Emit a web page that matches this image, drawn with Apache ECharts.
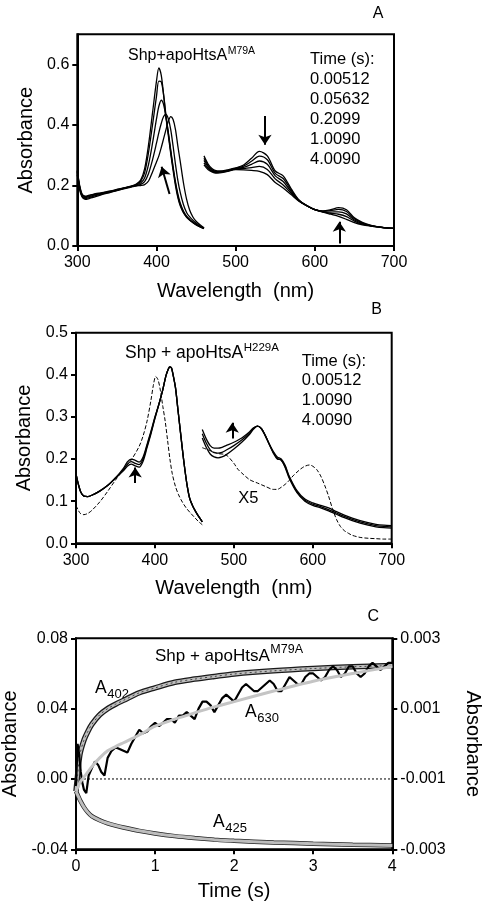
<!DOCTYPE html>
<html><head><meta charset="utf-8">
<script src="https://cdn.jsdelivr.net/npm/echarts@6/dist/echarts.min.js"></script>
<style>html,body{margin:0;padding:0;background:#fff}#c{width:490px;height:911px}</style>
</head><body><div id="c"></div>
<script>
const FONT = '"Liberation Sans", Arial, Helvetica, sans-serif';

// ---------- Panel A : Shp + apoHtsA M79A ----------
const timesA = ['0.00512', '0.05632', '0.2099', '1.0090', '4.0090'];
const wlAL = [300,303,306,310,315,320,330,340,350,360,370,375,380,385,390,395,400,403,406,409,412,415,418,421,424,427,430,434,438,442,446,450,455,460];
const aL_t1 = [.235,.186,.162,.154,.157,.161,.169,.176,.183,.19,.196,.199,.2,.203,.215,.245,.278,.298,.325,.355,.385,.413,.428,.418,.385,.33,.28,.21,.155,.118,.096,.082,.07,.06];
const aL_t2 = [.24,.19,.165,.157,.16,.164,.171,.178,.184,.191,.197,.2,.204,.213,.24,.285,.34,.375,.405,.428,.435,.42,.385,.33,.27,.217,.177,.137,.111,.096,.085,.076,.067,.059];
const aL_t3 = [.245,.194,.168,.16,.163,.167,.173,.179,.185,.192,.198,.202,.208,.225,.27,.34,.42,.462,.482,.468,.425,.375,.318,.262,.212,.172,.142,.116,.099,.088,.079,.072,.064,.058];
const aL_t4 = [.248,.197,.17,.163,.166,.17,.175,.18,.186,.192,.199,.204,.214,.242,.31,.4,.495,.545,.543,.5,.432,.372,.312,.257,.207,.166,.137,.113,.097,.086,.078,.071,.064,.058];
const aL_t5 = [.25,.2,.172,.165,.168,.171,.176,.181,.187,.193,.2,.206,.218,.255,.335,.44,.545,.589,.565,.5,.425,.365,.305,.25,.2,.16,.133,.11,.095,.085,.077,.07,.063,.057];
const wlAR = [460,465,470,475,480,490,500,510,520,530,540,550,560,570,580,590,600,610,620,630,640,650,660,670,680,690,700];
const aR_t1 = [.298,.272,.256,.249,.248,.252,.258,.268,.29,.313,.298,.248,.232,.19,.152,.133,.12,.112,.105,.098,.088,.077,.07,.066,.063,.06,.058];
const aR_t2 = [.29,.267,.253,.247,.246,.25,.257,.264,.28,.297,.285,.24,.223,.185,.151,.133,.12,.113,.108,.105,.097,.082,.072,.067,.063,.06,.058];
const aR_t3 = [.283,.263,.25,.245,.245,.249,.256,.26,.27,.281,.27,.232,.213,.18,.15,.133,.12,.114,.112,.113,.106,.086,.074,.067,.063,.06,.058];
const aR_t4 = [.275,.258,.247,.243,.244,.248,.255,.256,.259,.263,.253,.222,.202,.175,.149,.133,.12,.115,.117,.121,.114,.09,.076,.068,.063,.06,.058];
const aR_t5 = [.268,.253,.245,.241,.242,.247,.253,.252,.25,.247,.236,.21,.192,.17,.148,.133,.12,.116,.12,.127,.12,.093,.078,.069,.063,.06,.058];
const xTicksA = [300,400,500,600,700];
const yTicksA = [0,0.2,0.4,0.6];

// ---------- Panel B : Shp + apoHtsA H229A ----------
const timesB = ['0.00512', '1.0090', '4.0090'];
const wlBL = [300,303,306,310,315,320,330,340,350,360,365,370,375,380,385,390,395,400,405,410,414,417,419,421,423,426,429,432,435,438,441,444,448,452,456,460];
const bL_t1 = [.165,.14,.122,.112,.111,.114,.124,.137,.155,.172,.183,.188,.184,.181,.195,.227,.26,.296,.33,.365,.398,.414,.419,.416,.4,.37,.32,.27,.22,.174,.135,.107,.088,.074,.062,.051];
const bL_t2 = [.165,.14,.122,.112,.111,.114,.124,.137,.155,.175,.188,.194,.19,.187,.2,.231,.263,.298,.33,.365,.398,.414,.419,.416,.4,.37,.32,.27,.22,.174,.135,.107,.088,.074,.062,.051];
const bL_t3 = [.165,.14,.122,.112,.111,.114,.124,.137,.155,.178,.193,.2,.197,.193,.205,.235,.266,.3,.33,.365,.398,.414,.419,.416,.4,.37,.32,.27,.22,.174,.135,.107,.088,.074,.062,.051];
const wlBLd = [300,303,306,310,315,320,330,340,350,360,370,380,385,390,395,398,401,404,407,410,413,416,419,422,426,430,435,440,445,450,455,460];
const bL_dash = [.09,.078,.07,.068,.071,.078,.098,.123,.15,.175,.198,.23,.255,.29,.34,.375,.396,.388,.362,.325,.29,.245,.2,.165,.135,.115,.097,.083,.072,.062,.052,.044];
const wlBR = [460,465,470,475,480,485,490,500,510,520,525,530,535,540,545,550,555,560,565,570,580,590,600,610,620,630,640,650,660,670,680,690,700];
const bR_t1 = [.25,.228,.212,.205,.203,.205,.21,.224,.24,.259,.271,.278,.272,.255,.234,.214,.2,.198,.18,.155,.12,.1,.09,.084,.077,.069,.061,.054,.048,.043,.039,.037,.036];
const bR_t2 = [.26,.238,.222,.215,.214,.216,.221,.232,.245,.262,.273,.278,.272,.255,.235,.216,.202,.197,.182,.158,.122,.102,.093,.087,.08,.072,.064,.057,.051,.046,.042,.04,.039];
const bR_t3 = [.27,.248,.232,.226,.226,.228,.232,.24,.25,.265,.274,.278,.272,.255,.235,.218,.205,.2,.185,.16,.125,.105,.096,.09,.084,.075,.067,.06,.054,.049,.045,.043,.042];
const wlBRd = [460,470,480,490,500,505,510,520,530,540,550,555,560,565,570,575,580,585,590,596,600,605,610,615,620,625,630,635,640,645,650,660,670,680,690,700];
const bR_dash = [.227,.22,.213,.21,.19,.176,.167,.151,.143,.135,.128,.128,.133,.14,.149,.16,.169,.177,.183,.186,.183,.175,.16,.138,.112,.082,.057,.04,.03,.024,.019,.014,.012,.011,.01,.01];
const yTicksB = [0,0.1,0.2,0.3,0.4,0.5];

// ---------- Panel C : kinetics ----------
const tFit = [0,0.02,0.05,0.1,0.15,0.2,0.3,0.4,0.5,0.6,0.8,1.0,1.25,1.5,1.75,2.0,2.5,3.0,3.5,4.0];
const a402 = [-0.007,0.002,0.014,0.022,0.027,0.031,0.0365,0.04,0.0425,0.0447,0.049,0.0518,0.055,0.0568,0.0583,0.0597,0.0615,0.0628,0.0638,0.0645];
const a425 = [-0.007,-0.009,-0.012,-0.016,-0.019,-0.0212,-0.0235,-0.0252,-0.0265,-0.0276,-0.0295,-0.031,-0.0325,-0.0336,-0.0345,-0.0352,-0.0361,-0.0368,-0.0374,-0.0379];
const a630fit = [-0.00135,-0.00125,-0.0011,-0.00095,-0.0008,-0.00065,-0.0004,-0.0002,-0.00008,0.00003,0.00025,0.0005,0.0007,0.00088,0.00105,0.0012,0.0015,0.00178,0.002,0.0022];
const tObs = [0,0.02,0.04,0.06,0.08,0.1,0.13,0.16,0.2,0.24,0.28,0.32,0.36,0.4,0.45,0.5,0.55,0.6,0.65,0.7,0.75,0.8,0.85,0.9,0.95,1.0,1.05,1.1,1.15,1.2,1.25,1.3,1.35,1.4,1.45,1.5,1.55,1.6,1.65,1.7,1.75,1.8,1.85,1.9,1.95,2.0,2.05,2.1,2.15,2.2,2.25,2.3,2.35,2.4,2.45,2.5,2.55,2.6,2.65,2.7,2.75,2.8,2.85,2.9,2.95,3.0,3.05,3.1,3.15,3.2,3.25,3.3,3.35,3.4,3.45,3.5,3.55,3.6,3.65,3.7,3.75,3.8,3.85,3.9,3.95,4.0];
const a630obs = [-0.0012,0.0000,-0.0003,-0.0008,-0.0011,-0.0013,-0.0014,-0.0009,-0.0007,-0.0005,-0.0006,-0.0008,-0.0009,-0.0004,-0.0002,-0.0001,-0.00015,-0.0002,-0.00025,0.0000,0.0002,0.0004,0.0003,0.00035,0.0005,0.0006,0.0005,0.0006,0.0007,0.0007,0.0006,0.0008,0.0008,0.0009,0.0008,0.0007,0.0010,0.0012,0.0012,0.0011,0.0009,0.0011,0.0013,0.0014,0.0013,0.0012,0.0014,0.0016,0.0017,0.0016,0.0015,0.0015,0.0016,0.0017,0.0018,0.0017,0.0015,0.0015,0.0017,0.0019,0.0018,0.0017,0.0017,0.0019,0.0020,0.0020,0.0019,0.0018,0.0019,0.0021,0.0022,0.0021,0.0019,0.0020,0.0022,0.0022,0.0020,0.0019,0.0020,0.0022,0.0023,0.0022,0.0021,0.0022,0.0023,0.0023];
const xTicksC = [0,1,2,3,4];

// ---------- helpers ----------
const pair = (xs, ys) => xs.map((x, i) => [x, ys[i]]);
function line(xi, yi, xs, ys, color, width, dash, z, smooth) {
  return { type: 'line', xAxisIndex: xi, yAxisIndex: yi, data: pair(xs, ys),
    showSymbol: false, symbol: 'none', smooth: smooth === undefined ? 0.3 : smooth,
    lineStyle: { color: color, width: width, type: dash || 'solid' }, z: z || 2,
    silent: true, animation: false };
}
function arrow(xi, yi, from, to) {
  return { type: 'line', xAxisIndex: xi, yAxisIndex: yi, data: [], silent: true, animation: false, z: 8,
    markLine: { silent: true, animation: false, symbol: ['none', 'arrow'], symbolSize: 10,
      label: { show: false }, lineStyle: { color: '#000', width: 2, type: 'solid' },
      itemStyle: { color: '#000' },
      emphasis: { disabled: true },
      data: [[{ coord: from }, { coord: to }]] } };
}
const tickStyle = { show: true, length: 5, inside: false, lineStyle: { color: '#000', width: 2 } };
const axLine = { show: true, onZero: false, lineStyle: { color: '#000', width: 2 } };
function xAx(gi, min, max, itv, ticks, name, gap) {
  return { type: 'value', gridIndex: gi, min: min, max: max, interval: itv,
    axisLine: axLine, axisTick: Object.assign({ customValues: ticks }, tickStyle),
    axisLabel: { customValues: ticks, fontSize: 16, color: '#000', fontFamily: FONT, margin: 9 },
    splitLine: { show: false },
    name: name, nameLocation: 'middle', nameGap: gap,
    nameTextStyle: { fontSize: 20, color: '#000', fontFamily: FONT } };
}
function yAx(gi, min, max, itv, ticks, dec, name, gap, pos, rot) {
  return { type: 'value', gridIndex: gi, min: min, max: max, interval: itv, position: pos || 'left',
    axisLine: axLine, axisTick: Object.assign({ customValues: ticks }, tickStyle),
    axisLabel: { customValues: ticks, fontSize: 16, color: '#000', fontFamily: FONT, margin: 8,
      formatter: v => (Math.abs(v) < 1e-12 ? 0 : v).toFixed(dec) },
    splitLine: { show: false },
    name: name, nameLocation: 'middle', nameGap: gap, nameRotate: rot,
    nameTextStyle: { fontSize: 20, color: '#000', fontFamily: FONT } };
}

const mctx = document.createElement('canvas').getContext('2d');
function tw(s, size) { mctx.font = size + 'px ' + FONT; return mctx.measureText(s).width; }
function txt(x, y, s, size, align) {
  return { type: 'text', x: x, y: y, silent: true,
    style: { text: s, fontSize: size, fontFamily: FONT, fill: '#000',
      align: align || 'left', verticalAlign: 'middle', textAlign: align || 'left', textVerticalAlign: 'middle' } };
}
function supText(x, y, main, sup, size, supSize, dy) {
  return [txt(x, y, main, size), txt(x + tw(main, size) + 0.5, y + dy, sup, supSize)];
}

const graphics = [];
graphics.push(txt(378, 14, 'A', 16, 'center'));
graphics.push(txt(376.7, 310, 'B', 16, 'center'));
graphics.push(txt(373.3, 616.7, 'C', 16, 'center'));
graphics.push(...supText(128, 55.5, 'Shp+apoHtsA', 'M79A', 16, 10.5, -4.5));
graphics.push(txt(310, 59, 'Time (s):', 16.5));
timesA.forEach((t, i) => graphics.push(txt(310, 79 + 20 * i, t, 16.5)));
graphics.push(...supText(125, 353, 'Shp + apoHtsA', 'H229A', 17.5, 11.5, -5.5));
graphics.push(txt(301.7, 361.7, 'Time (s):', 16.5));
timesB.forEach((t, i) => graphics.push(txt(301.7, 380.7 + 20 * i, t, 16.5)));
graphics.push(txt(238.3, 498, 'X5', 16.5));
graphics.push(...supText(155, 656, 'Shp + apoHtsA', 'M79A', 17, 12.5, -6.5));
graphics.push(...supText(95, 688, 'A', '402', 17.5, 13, 6));
graphics.push(...supText(245, 712.5, 'A', '630', 17.5, 13, 6));
graphics.push(...supText(213, 822.5, 'A', '425', 17.5, 13, 6));

const series = [];
// Panel A
[[aL_t1, aR_t1], [aL_t2, aR_t2], [aL_t3, aR_t3], [aL_t4, aR_t4], [aL_t5, aR_t5]].forEach(([l, r]) => {
  series.push(line(0, 0, wlAL, l, '#000', 1.3));
  series.push(line(0, 0, wlAR, r, '#000', 1.3));
});
series.push(arrow(0, 0, [416.5, 0.172], [406.5, 0.262]));
series.push(arrow(0, 0, [537, 0.43], [537, 0.335]));
series.push(arrow(0, 0, [631, 0.008], [631, 0.08]));
// Panel B
series.push(line(1, 1, wlBLd, bL_dash, '#000', 1, [4, 2]));
series.push(line(1, 1, wlBRd, bR_dash, '#000', 1, [4, 2]));
[[bL_t1, bR_t1], [bL_t2, bR_t2], [bL_t3, bR_t3]].forEach(([l, r]) => {
  series.push(line(1, 1, wlBL, l, '#000', 1.3));
  series.push(line(1, 1, wlBR, r, '#000', 1.3));
});
series.push(arrow(1, 1, [375, 0.143], [375, 0.18]));
series.push(arrow(1, 1, [498, 0.249], [498, 0.286]));
// Panel C
series.push(line(2, 2, [0, 4], [0, 0], '#000', 1, [2, 2], 1, false));
series.push(line(2, 2, tFit, a402, '#1a1a1a', 5.5, 'solid', 2));
series.push(line(2, 2, tFit, a402, '#bdbdbd', 3, 'solid', 3));
series.push(line(2, 2, tFit, a402, '#444', 1, [2, 3], 4));
series.push(line(2, 2, tFit, a425, '#222', 4.5, 'solid', 2));
series.push(line(2, 2, tFit, a425, '#bdbdbd', 3, 'solid', 3));
series.push(line(2, 3, tObs, a630obs, '#000', 2.2, 'solid', 5, false));
series.push(line(2, 3, tFit, a630fit, '#c4c4c4', 3, 'solid', 6));

const option = {
  backgroundColor: '#fff',
  animation: false,
  textStyle: { fontFamily: FONT, color: '#000' },
  grid: [
    { left: 77.3, top: 34.3, width: 316.7, height: 211.7, show: true, borderColor: '#000', borderWidth: 2, backgroundColor: 'transparent', outerBoundsMode: 'none' },
    { left: 76, top: 332.7, width: 315.7, height: 210.6, show: true, borderColor: '#000', borderWidth: 2, backgroundColor: 'transparent', outerBoundsMode: 'none' },
    { left: 76, top: 638.3, width: 316.3, height: 211, show: true, borderColor: '#000', borderWidth: 2, backgroundColor: 'transparent', outerBoundsMode: 'none' }
  ],
  xAxis: [
    xAx(0, 300, 700, 100, xTicksA, 'Wavelength  (nm)', 35),
    xAx(1, 300, 700, 100, xTicksA, 'Wavelength  (nm)', 35),
    xAx(2, 0, 4, 1, xTicksC, 'Time (s)', 32)
  ],
  yAxis: [
    yAx(0, 0, 0.7, 0.1, yTicksA, 1, 'Absorbance', 39),
    yAx(1, 0, 0.5, 0.1, yTicksB, 1, 'Absorbance', 38),
    yAx(2, -0.04, 0.08, 0.04, [-0.04, 0, 0.04, 0.08], 2, 'Absorbance', 54),
    yAx(2, -0.003, 0.003, 0.002, [-0.003, -0.001, 0.001, 0.003], 3, 'Absorbance', 70, 'right', -90)
  ],
  series: series,
  graphic: graphics
};
const chart = echarts.init(document.getElementById('c'), null, { renderer: 'canvas' });
chart.setOption(option);
</script>
</body></html>
